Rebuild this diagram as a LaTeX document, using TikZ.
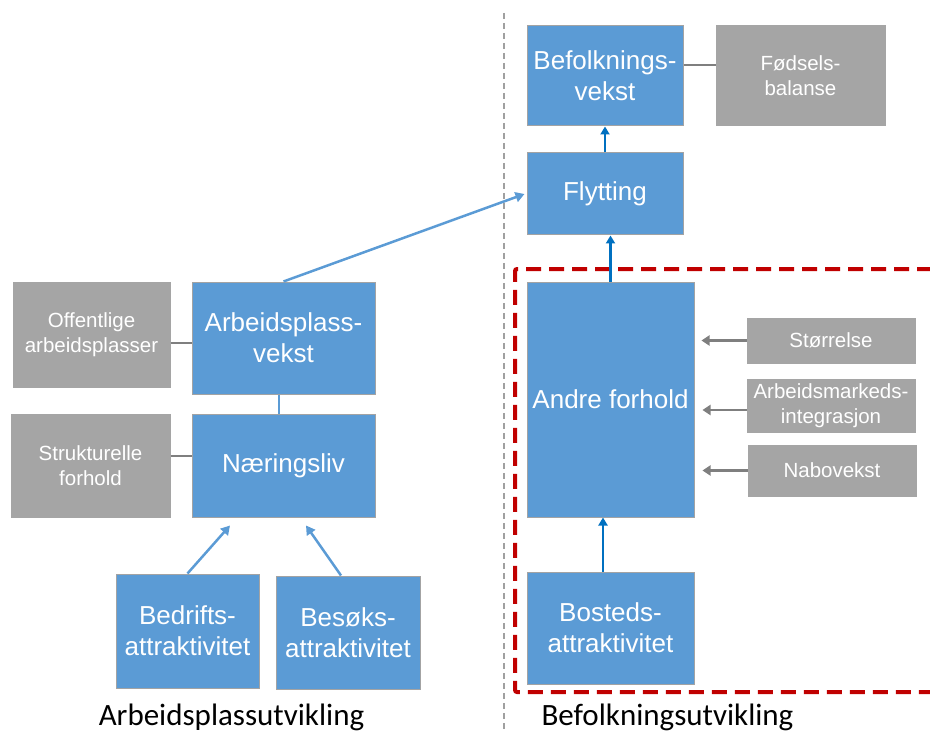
\documentclass[tikz,border=0pt]{standalone}
\usepackage{fontspec}
\setmainfont{Liberation Sans}
\newfontfamily\labfont{Carlito}
\usetikzlibrary{arrows.meta}
\definecolor{boxblue}{HTML}{5B9BD5}
\definecolor{boxgray}{HTML}{A5A5A5}
\definecolor{boxedge}{HTML}{A3A3A3}
\definecolor{darkblue}{HTML}{0070C0}
\definecolor{linegray}{HTML}{7F7F7F}
\definecolor{redline}{HTML}{C00000}
\definecolor{sepgray}{HTML}{A0A0A0}
\tikzset{
  bluebox/.style={draw=boxedge, line width=1pt, fill=boxblue, text=white, align=center, inner sep=0pt,
    font=\fontsize{26}{31}\selectfont},
  graybox/.style={draw=boxgray, line width=1pt, fill=boxgray, text=white, align=center, inner sep=0pt,
    font=\fontsize{20.5}{25}\selectfont},
  gline/.style={draw=linegray, line width=2.5pt},
  bline/.style={draw=boxblue, line width=2.5pt},
  darr/.style={draw=darkblue, line width=2.5pt, -{Triangle[length=8pt,width=9pt]}},
  larr/.style={draw=boxblue, line width=2.5pt, -{Triangle[length=9pt,width=10pt]}},
  garr/.style={draw=linegray, line width=2.5pt, -{Triangle[length=8pt,width=10pt]}},
  bottomlabel/.style={anchor=base, inner sep=0pt, font=\labfont\fontsize{31}{36}\selectfont, text=black}
}
\begin{document}
\begin{tikzpicture}[x=1pt,y=-1pt]
\useasboundingbox (0,0) rectangle (930,733);
% separators
\draw[sepgray, line width=2pt, dash pattern=on 6pt off 4pt] (504,13) -- (504,733);
\draw[redline, line width=4pt, dash pattern=on 15pt off 8pt, rounded corners=2pt]
  (932,269) -- (515,269) -- (515,692) -- (932,692);
% right side
\node[bluebox, minimum width=156pt, minimum height=100pt] (bv) at (605,76) {Befolknings-\\vekst};
\node[graybox, minimum width=169pt, minimum height=100pt] (fb) at (800.5,76) {Fødsels-\\balanse};
\node[bluebox, minimum width=156pt, minimum height=82pt] (fl) at (605,194) {Flytting};
\node[bluebox, minimum width=167pt, minimum height=235pt] (af) at (610.5,399.5) {Andre forhold};
\node[bluebox, minimum width=167pt, minimum height=112pt] (bo) at (610.5,628) {Bosteds-\\attraktivitet};
\node[graybox, minimum width=168pt, minimum height=45pt] (st) at (831,340.5) {Størrelse};
\node[graybox, minimum width=168pt, minimum height=53pt] (am) at (831,405.5) {Arbeidsmarkeds-\\integrasjon};
\node[graybox, minimum width=168pt, minimum height=51pt] (nv) at (832,470.5) {Nabovekst};
% left side
\node[bluebox, minimum width=183pt, minimum height=112pt] (apv) at (283.5,338) {Arbeidsplass-\\vekst};
\node[graybox, minimum width=157pt, minimum height=105pt] (oa) at (91.5,334.5) {Offentlige\\arbeidsplasser};
\node[bluebox, minimum width=183pt, minimum height=103pt] (nl) at (283.5,465.5) {Næringsliv};
\node[graybox, minimum width=159pt, minimum height=103pt] (sf) at (90.5,465.5) {Strukturelle\\forhold};
\node[bluebox, minimum width=143pt, minimum height=114pt] (ba) at (187.5,631) {Bedrifts-\\attraktivitet};
\node[bluebox, minimum width=144pt, minimum height=113pt] (be) at (348,632.5) {Besøks-\\attraktivitet};
% connectors right
\draw[gline] ([yshift=11pt]bv.east) -- ([yshift=11pt]fb.west);
\draw[darr] (fl.north) -- (bv.south);
\draw[darr] (af.north) -- (af.north |- fl.south);
\draw[darr] ([xshift=-7.5pt]bo.north) -- ([xshift=-7.5pt]af.south);
\draw[garr] (st.west) -- ([xshift=7pt]af.east |- st.west);
\draw[garr] ([yshift=-4.5pt]am.west) -- ([xshift=8pt,yshift=-4.5pt]af.east |- am.west);
\draw[garr] (nv.west) -- ([xshift=8pt]af.east |- nv.west);
% connectors left
\draw[larr] (apv.north) -- ([xshift=-2pt,yshift=0pt]fl.west);
\draw[gline] ([yshift=-8.5pt]oa.east) -- ([yshift=-5pt]apv.west);
\draw[bline] ([xshift=-4.5pt]apv.south) -- ([xshift=-4.5pt]nl.north);
\draw[gline] ([yshift=9.5pt]sf.east) -- ([yshift=9.5pt]nl.west);
\draw[larr] (ba.north) -- ([xshift=-53.5pt,yshift=-8pt]nl.south);
\draw[larr] ([xshift=-7pt]be.north) -- ([xshift=22.5pt,yshift=-8pt]nl.south);
% labels
\node[bottomlabel] (lab1) at (231.5,725) {Arbeidsplassutvikling};
\node[bottomlabel] (lab2) at (667.5,725) {Befolkningsutvikling};
\end{tikzpicture}
\end{document}
